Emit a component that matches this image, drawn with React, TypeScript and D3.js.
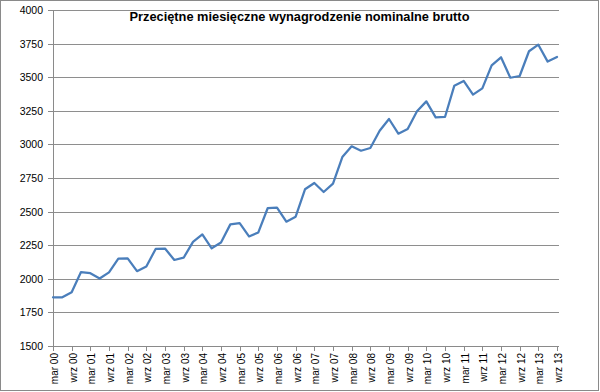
import React from "react";
import * as d3 from "d3";

const years = ["00","01","02","03","04","05","06","07","08","09","10","11","12","13"];
const months = ["mar","cze","wrz","gru"];
const categories: string[] = years.flatMap(y => months.map(m => `${m} ${y}`)).slice(0, 55);

const wages: number[] = [
  1862, 1862, 1900, 2050,
  2042, 2002, 2048, 2150,
  2152, 2057, 2092, 2222,
  2225, 2140, 2157, 2275,
  2330, 2227, 2270, 2405,
  2415, 2315, 2345, 2525,
  2530, 2425, 2462, 2666,
  2713, 2646, 2708, 2906,
  2986, 2953, 2973, 3102,
  3189, 3080, 3115, 3246,
  3320, 3201, 3204, 3437,
  3472, 3370, 3417, 3588,
  3648, 3496, 3509, 3693,
  3742, 3616, 3651,
];

const yTicks: number[] = [1500, 1750, 2000, 2250, 2500, 2750, 3000, 3250, 3500, 3750, 4000];
const title = "Przeciętne miesięczne wynagrodzenie nominalne brutto";

const W = 600, H = 392;
const left = 53, right = 557, top = 10, bottom = 346;

export default function App() {
  const x = d3.scalePoint<string>().domain(categories).range([left, right]);
  const y = d3.scaleLinear().domain([1500, 4000]).range([bottom, top]);
  const line = d3.line<number>()
    .x((_, i) => x(categories[i]) as number)
    .y(d => y(d));
  const labeled = categories.filter((_, i) => i % 2 === 0);
  const axisColor = "#8a8a8a";
  return (
    <svg width={W} height={H} style={{ position: "absolute", left: 0, top: 0, background: "#fff" }}>
      <rect x={0.5} y={0.5} width={598} height={390} fill="#fff" stroke="#8a8a8a" strokeWidth={1} />
      {yTicks.filter(t => t > 1500).map(t => (
        <line key={t} x1={left} x2={559} y1={Math.round(y(t)) + 0.5} y2={Math.round(y(t)) + 0.5}
          stroke="#8e8e8e" strokeWidth={1} />
      ))}
      {yTicks.map(t => (
        <g key={"yt" + t}>
          <line x1={48} x2={left} y1={Math.round(y(t)) + 0.5} y2={Math.round(y(t)) + 0.5} stroke={axisColor} />
          <text x={43} y={y(t)} textAnchor="end" dominantBaseline="central"
            fontFamily="'Liberation Sans', Arial, sans-serif" fontSize={10.5} fill="#000">{t}</text>
        </g>
      ))}
      <line x1={left + 0.5} x2={left + 0.5} y1={top} y2={bottom + 0.5} stroke={axisColor} />
      <line x1={left} x2={559} y1={bottom + 0.5} y2={bottom + 0.5} stroke={axisColor} />
      {labeled.map(c => {
        const px = Math.round(x(c) as number) + 0.5;
        return (
          <g key={"xt" + c}>
            <line x1={px} x2={px} y1={bottom} y2={351} stroke={axisColor} />
            <text transform={`translate(${px + 1},353) rotate(-90)`} textAnchor="end" dominantBaseline="central"
              fontFamily="'Liberation Sans', Arial, sans-serif" fontSize={10} fill="#000">{c}</text>
          </g>
        );
      })}
      <path d={line(wages) || ""} fill="none" stroke="#4A7EBB" strokeWidth={2.25}
        strokeLinejoin="round" strokeLinecap="round" />
      <text x={299.5} y={20.5} textAnchor="middle" fontFamily="'Liberation Sans', Arial, sans-serif"
        fontWeight="bold" fontSize={12.8} fill="#000">{title}</text>
    </svg>
  );
}
